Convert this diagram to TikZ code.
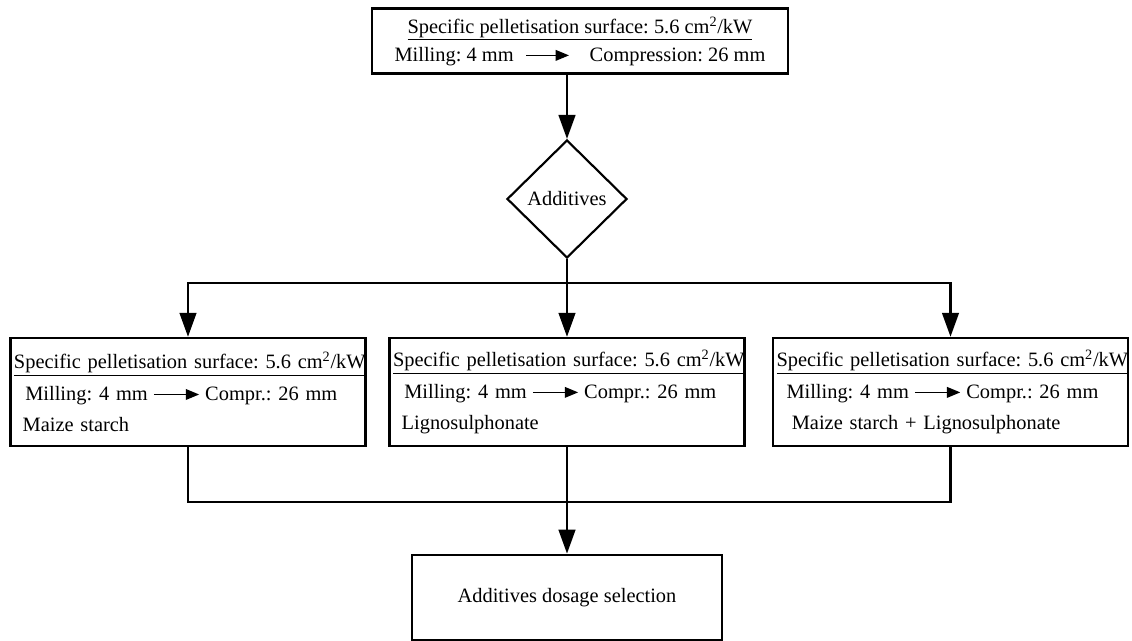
\documentclass[tikz,border=0pt]{standalone}
\usepackage{fontspec}
\setmainfont{Liberation Serif}
\usetikzlibrary{shapes.geometric,arrows.meta}
\frenchspacing
\tikzset{
  boxstep/.style={draw,rectangle,line width=1.8pt,inner sep=1pt,font=\fontsize{15.3}{23.5}\selectfont},
  choice/.style={draw,diamond,line width=1.6pt,inner sep=0pt,minimum width=90pt,minimum height=88.5pt,font=\fontsize{15.3}{18}\selectfont},
  flow/.style={line width=1.8pt},
  flowarr/.style={flow,-{Triangle[length=18pt,width=12.5pt]}}
}
%Small arrow used inside the box texts
\newcommand\millarr[1]{\tikz[baseline=-0.6ex]\draw[line width=1.1pt,-{Triangle[length=10pt,width=8pt]}] (0,0)--(#1,0);}

\begin{document}
\begin{tikzpicture}[x=0.75pt,y=-0.75pt] %1 unit = 1 pixel of the 1132 x 641 layout
\useasboundingbox (0,0) rectangle (1132,641); %Fixes the page size
%Starting configuration:
\node[boxstep,minimum width=312pt,minimum height=49pt,align=center,font=\fontsize{15.3}{21}\selectfont] (topbox) at (580,41)
  {\underline{Specific pelletisation surface: 5.6 cm\textsuperscript{2}/kW}\\
   Milling: 4 mm\hspace{9pt}\millarr{32pt}\hspace{15pt}Compression: 26 mm};
\node[choice] (choice) at (567,199) {Additives}; %Decision
%The three additive variants:
\node[boxstep,minimum width=266pt,minimum height=81pt,text width=264pt,align=left] (leftbox) at (188,392)
  {\hspace*{1.5pt}\underline{Specific pelletisation surface: 5.6 cm\textsuperscript{2}/kW}\\
   \hspace*{10pt}Milling: 4 mm\hspace{4pt}\millarr{34pt}\hspace{4pt}Compr.: 26 mm\\
   \hspace*{8pt}Maize starch};
\node[boxstep,minimum width=266pt,minimum height=81pt,text width=264pt,align=left] (midbox) at (567,392)
  {\hspace*{1.5pt}\underline{Specific pelletisation surface: 5.6 cm\textsuperscript{2}/kW}\\
   \hspace*{10pt}Milling: 4 mm\hspace{4pt}\millarr{34pt}\hspace{4pt}Compr.: 26 mm\\
   \hspace*{8pt}Lignosulphonate};
\node[boxstep,minimum width=266pt,minimum height=81pt,text width=264pt,align=left] (rightbox) at (950.5,392)
  {\hspace*{1.5pt}\underline{Specific pelletisation surface: 5.6 cm\textsuperscript{2}/kW}\\
   \hspace*{9pt}Milling: 4 mm\hspace{4pt}\millarr{34pt}\hspace{4pt}Compr.: 26 mm\\
   \hspace*{13pt}Maize starch + Lignosulphonate};
\node[boxstep,minimum width=232.5pt,minimum height=64pt] (endbox) at (567,597.5) {Additives dosage selection}; %Final step
%Connectors:
\coordinate (split) at (choice.south |- 0,283);
\coordinate (join) at (midbox.south |- 0,502);
\draw[flowarr] (topbox.south -| choice.north) -- (choice.north);
\draw[flowarr] (choice.south) -- (midbox.north);
\draw[flowarr] (split) -| (leftbox.north);
\draw[flowarr] (split) -| (rightbox.north);
\draw[flow] (leftbox.south) |- (join) -| (rightbox.south);
\draw[flowarr] (midbox.south) -- (endbox.north);
\end{tikzpicture}
\end{document}
